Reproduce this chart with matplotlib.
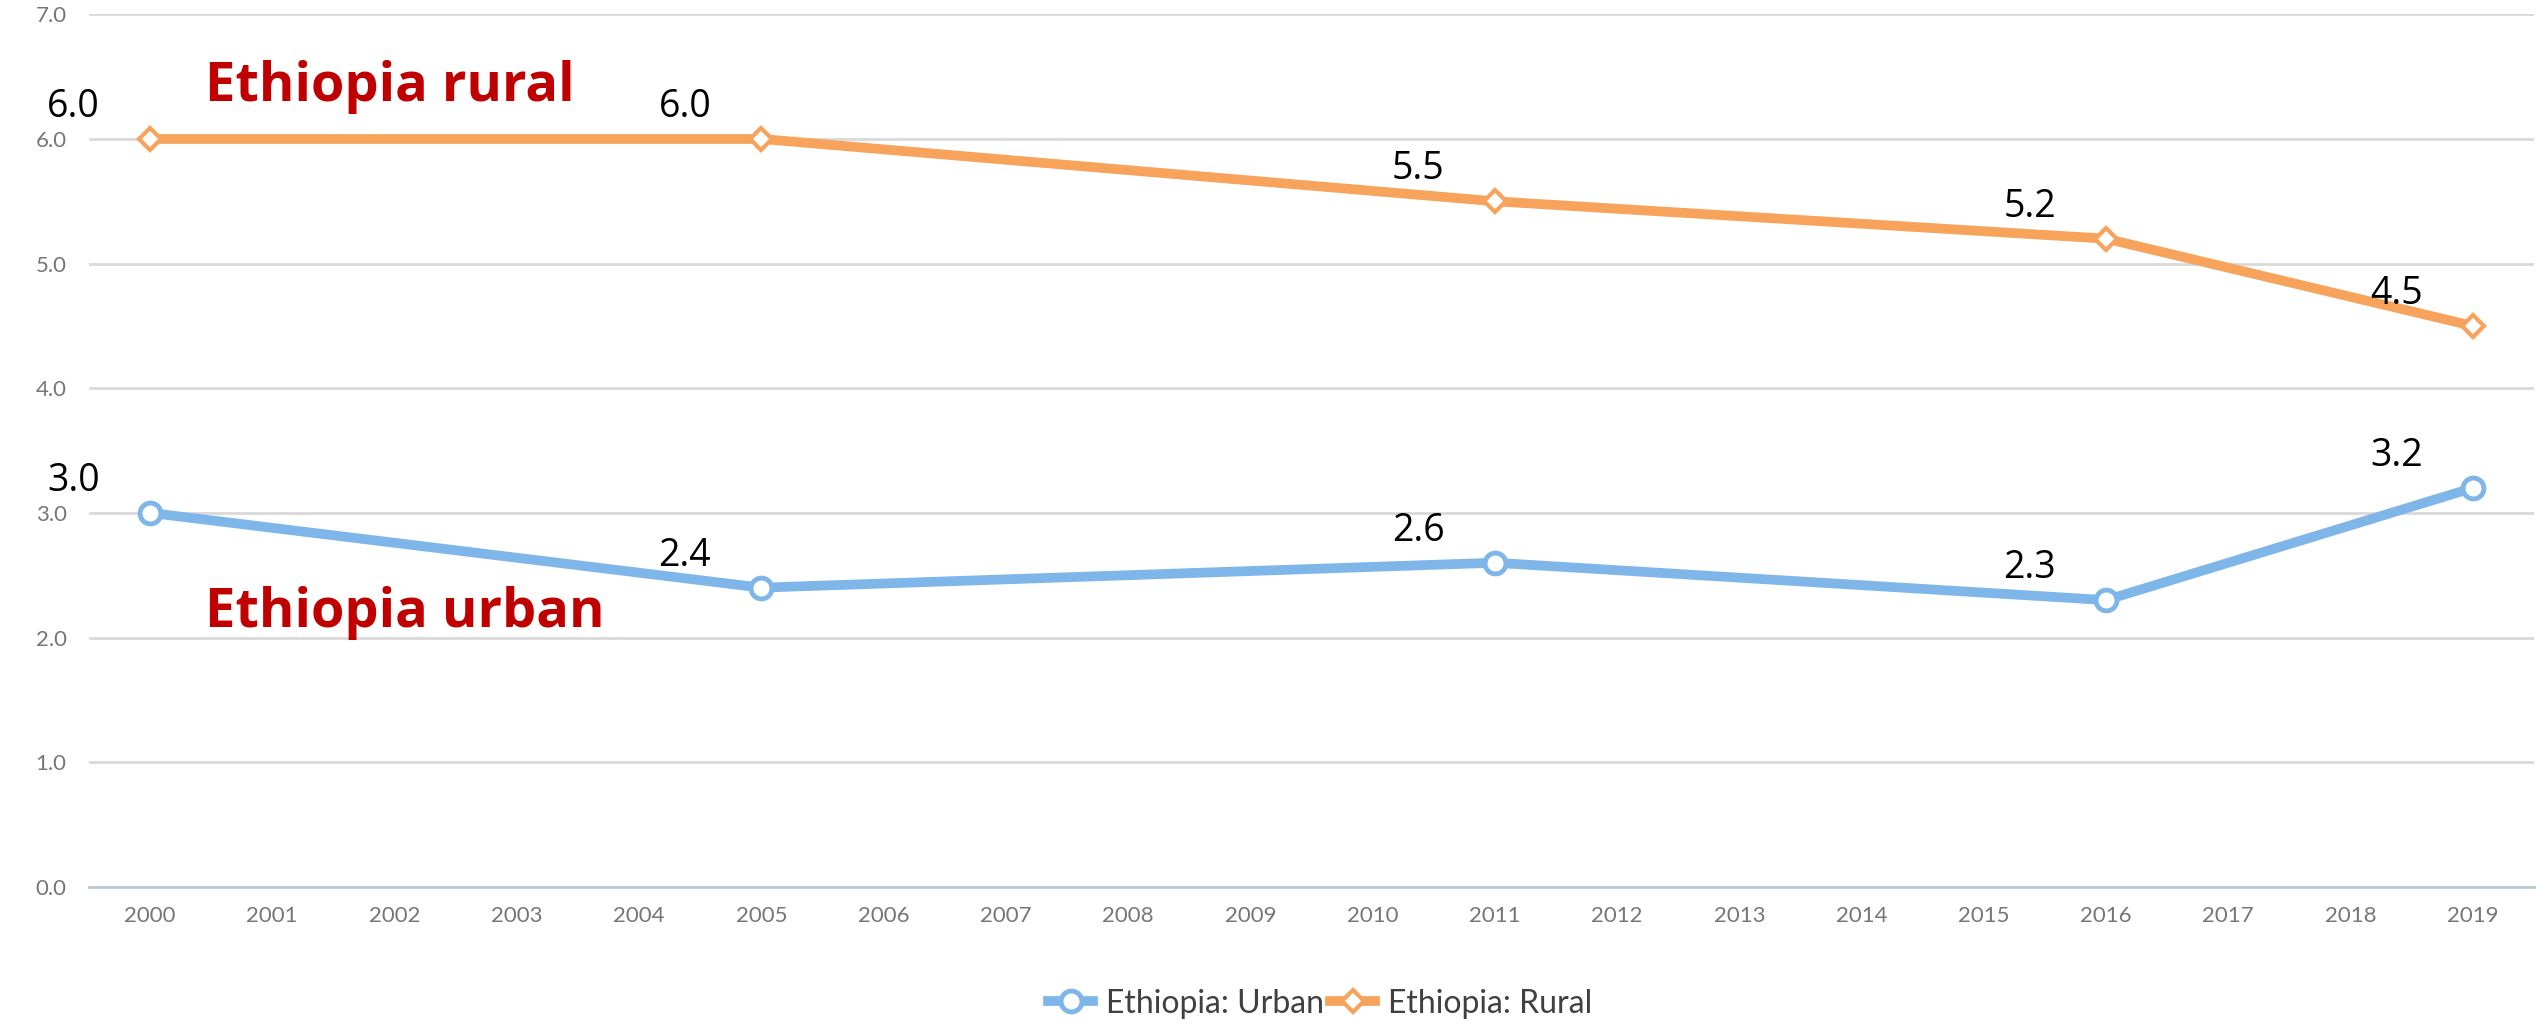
import numpy as np
import matplotlib.pyplot as plt

# categories on the x axis
years = [str(y) for y in range(2000, 2020)]
# survey years that have values
survey_years = ['2000', '2005', '2011', '2016', '2019']
urban = [3.0, 2.4, 2.6, 2.3, 3.2]
rural = [6.0, 6.0, 5.5, 5.2, 4.5]

urban_col = '#7EB6EA'
rural_col = '#F7A35C'

fig = plt.figure(figsize=(25.39, 10.24), dpi=100)
ax = fig.add_axes([0.035, 0.134, 0.963, 0.852])

xpos = [years.index(y) for y in survey_years]

ax.plot(xpos, urban, '-o', color=urban_col, lw=7, ms=15, mfc='white',
        mew=3.5, mec=urban_col, label='Ethiopia: Urban', zorder=3)
ax.plot(xpos, rural, '-D', color=rural_col, lw=7, ms=11, mfc='white',
        mew=3, mec=rural_col, label='Ethiopia: Rural', zorder=3)

# data labels
for x, v in zip(xpos, urban):
    ax.annotate('%.1f' % v, (x, v), xytext=(-55, 23), textcoords='offset points',
                ha='center', va='center', fontsize=27, family='Open Sans', color='black')
for x, v in zip(xpos, rural):
    ax.annotate('%.1f' % v, (x, v), xytext=(-55, 23), textcoords='offset points',
                ha='center', va='center', fontsize=27, family='Open Sans', color='black')

ax.text(0.45, 6.42, 'Ethiopia rural', fontsize=39, fontweight='bold', color='#C00000',
        family='Open Sans', va='center', ha='left')
ax.text(0.45, 2.2, 'Ethiopia urban', fontsize=39, fontweight='bold', color='#C00000',
        family='Open Sans', va='center', ha='left')

ax.set_xlim(-0.5, len(years) - 0.5)
ax.set_ylim(0, 7)
ax.set_xticks(range(len(years)))
ax.set_xticklabels(years)
ax.set_yticks(np.arange(0, 7.1, 1.0))
ax.set_yticklabels(['%.1f' % t for t in np.arange(0, 7.1, 1.0)])
ax.tick_params(length=0, labelsize=16, labelcolor='#767676', pad=14)
ax.tick_params(axis='y', pad=16)
for lab in ax.get_xticklabels() + ax.get_yticklabels():
    lab.set_family('Lato')

ax.grid(axis='y', color='#D9D9D9', lw=2)
ax.set_axisbelow(True)
for s in ['top', 'right', 'left']:
    ax.spines[s].set_visible(False)
ax.spines['bottom'].set_color('#B8C8DE')
ax.spines['bottom'].set_linewidth(2)

fig.legend(loc='center', bbox_to_anchor=(0.52, 0.02), ncol=2, frameon=False,
           prop={'family': 'Lato', 'size': 23}, labelcolor='#404040',
           handlelength=1.4, columnspacing=0.2, handletextpad=0.4)

fig.savefig('out.png')
